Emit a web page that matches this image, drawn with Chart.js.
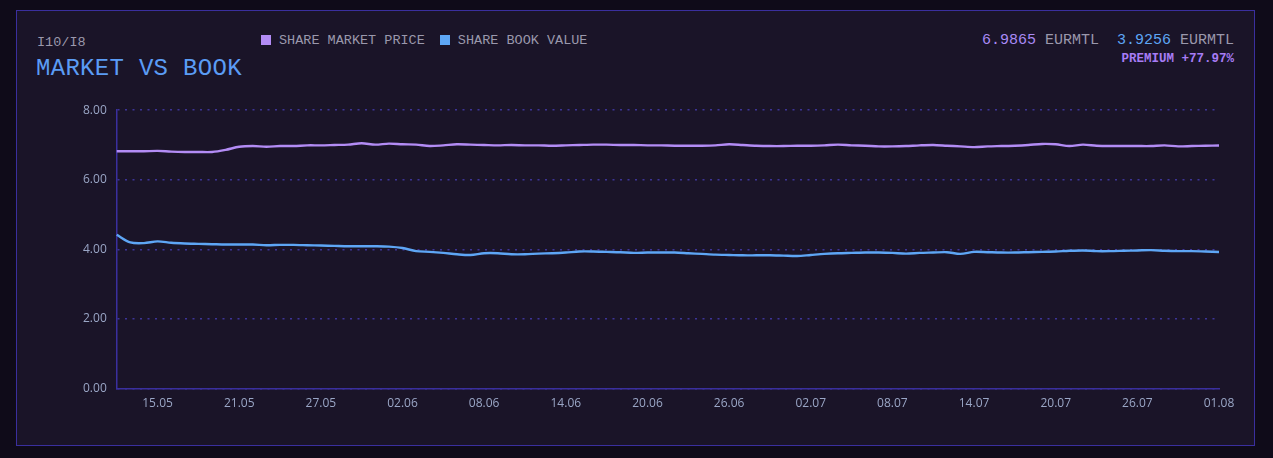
<!DOCTYPE html>
<html>
<head>
<meta charset="utf-8">
<script src="https://cdn.jsdelivr.net/npm/chart.js@4.4.1/dist/chart.umd.min.js"></script>
<style>
  html, body { margin:0; padding:0; background:#0f0b19; width:1273px; height:458px; overflow:hidden; }
  #panel { position:absolute; left:16px; top:10px; width:1237px; height:434px; background:#1a1428; border:1px solid #3a2f9e; }
  .mono { font-family: "Liberation Mono", "DejaVu Sans Mono", monospace; }
  #sub { position:absolute; left:20px; top:24px; font-size:13.5px; color:#9a98ac; }
  #title { position:absolute; left:19px; top:44px; font-size:24px; color:#5b9cf5; letter-spacing:0.3px; }
  #legend { position:absolute; left:244px; top:22px; font-size:13.5px; color:#9a98ac; display:flex; gap:15px; }
  #legend span.sw { display:inline-block; width:10px; height:10px; margin-right:8px; vertical-align:-1px; }
  #vals { position:absolute; right:20px; top:21px; font-size:15px; color:#9a98ac; text-align:right; white-space:pre; }
  #prem { position:absolute; right:20px; top:41px; font-size:12.5px; color:#a77cf5; text-align:right; font-weight:bold; }
  #wrap { position:absolute; left:56px; top:82px; width:1166px; height:318px; }
</style>
</head>
<body>
<div id="panel">
  <div id="sub" class="mono">I10/I8</div>
  <div id="title" class="mono">MARKET VS BOOK</div>
  <div id="legend" class="mono">
    <div><span class="sw" style="background:#b38cf5"></span>SHARE MARKET PRICE</div>
    <div><span class="sw" style="background:#5ea6f5"></span>SHARE BOOK VALUE</div>
  </div>
  <div id="vals" class="mono"><span style="color:#a98af5">6.9865</span> EURMTL  <span style="color:#5ea6f5">3.9256</span> EURMTL</div>
  <div id="prem" class="mono">PREMIUM +77.97%</div>
  <div id="wrap"><canvas id="c"></canvas></div>
</div>
<script>
const dates = (function(){
  const out = [];
  const d = new Date(Date.UTC(2024, 4, 12));
  for (let i = 0; i < 82; i++) {
    const dd = String(d.getUTCDate()).padStart(2,'0');
    const mm = String(d.getUTCMonth()+1).padStart(2,'0');
    out.push(dd + '.' + mm);
    d.setUTCDate(d.getUTCDate()+1);
  }
  return out;
})();

const marketPrice = [
  6.82, 6.82, 6.82, 6.83, 6.81, 6.80, 6.80, 6.80, 6.86, 6.95,
  6.97, 6.95, 6.97, 6.97, 6.99, 6.99, 7.00, 7.01, 7.05, 7.01,
  7.04, 7.02, 7.01, 6.97, 6.99, 7.02, 7.01, 7.00, 6.99, 7.00,
  6.99, 6.99, 6.98, 6.99, 7.00, 7.01, 7.01, 7.00, 7.00, 6.99,
  6.99, 6.98, 6.98, 6.98, 6.99, 7.02, 7.00, 6.98, 6.97, 6.97,
  6.98, 6.98, 6.99, 7.01, 6.99, 6.98, 6.96, 6.96, 6.97, 6.99,
  7.00, 6.98, 6.96, 6.94, 6.96, 6.97, 6.98, 7.00, 7.03, 7.02,
  6.97, 7.01, 6.98, 6.97, 6.97, 6.97, 6.97, 6.99, 6.96, 6.97,
  6.98, 6.9865
];

const bookValue = [
  4.42, 4.20, 4.18, 4.23, 4.19, 4.17, 4.16, 4.15, 4.14, 4.14,
  4.14, 4.12, 4.13, 4.13, 4.12, 4.11, 4.10, 4.09, 4.09, 4.09,
  4.08, 4.04, 3.95, 3.93, 3.90, 3.86, 3.84, 3.89, 3.89, 3.86,
  3.86, 3.88, 3.89, 3.91, 3.94, 3.94, 3.93, 3.92, 3.90, 3.91,
  3.91, 3.91, 3.89, 3.87, 3.85, 3.84, 3.83, 3.83, 3.83, 3.82,
  3.81, 3.84, 3.87, 3.89, 3.90, 3.91, 3.91, 3.90, 3.88, 3.90,
  3.91, 3.92, 3.87, 3.93, 3.92, 3.91, 3.91, 3.92, 3.93, 3.94,
  3.96, 3.97, 3.95, 3.95, 3.96, 3.97, 3.98, 3.96, 3.95, 3.95,
  3.94, 3.9256
];

const yTicks = [0, 2, 4, 6, 8];

new Chart(document.getElementById('c'), {
  type: 'line',
  data: {
    labels: dates,
    datasets: [
      { label: 'SHARE MARKET PRICE', data: marketPrice, borderColor: '#b38cf5', borderWidth: 2.4, pointRadius: 0, tension: 0.3, fill: false },
      { label: 'SHARE BOOK VALUE', data: bookValue, borderColor: '#5ea6f5', borderWidth: 2.4, pointRadius: 0, tension: 0.3, fill: false }
    ]
  },
  options: {
    responsive: true,
    maintainAspectRatio: false,
    animation: false,
    plugins: { legend: { display: false }, tooltip: { enabled: false } },
    layout: { padding: { left: 0, right: 20, top: 6, bottom: 0 } },
    scales: {
      x: {
        grid: { display: false },
        border: { display: true, color: '#3a2f9e', width: 1.5 },
        ticks: {
          autoSkip: false, maxRotation: 0, color: '#9aa6c6',
          font: { family: '"Open Sans", "Noto Sans", sans-serif', size: 12 },
          padding: 0,
          callback: function(v, i) { return ((i - 3) % 6 === 0 && i >= 3) ? dates[i] : null; }
        }
      },
      y: {
        min: 0, max: 8,
        afterBuildTicks: function(ax){ ax.ticks = yTicks.map(v => ({ value: v })); },
        grid: { color: '#3d3498', lineWidth: 1.5, drawTicks: false },
        border: { display: true, color: '#3a2f9e', width: 1.5, dash: [2, 5.5] },
        ticks: {
          color: '#9aa6c6', padding: 10,
          font: { family: '"Open Sans", "Noto Sans", sans-serif', size: 12 },
          callback: function(v){ return Number(v).toFixed(2); }
        }
      }
    }
  }
});
</script>
</body>
</html>
